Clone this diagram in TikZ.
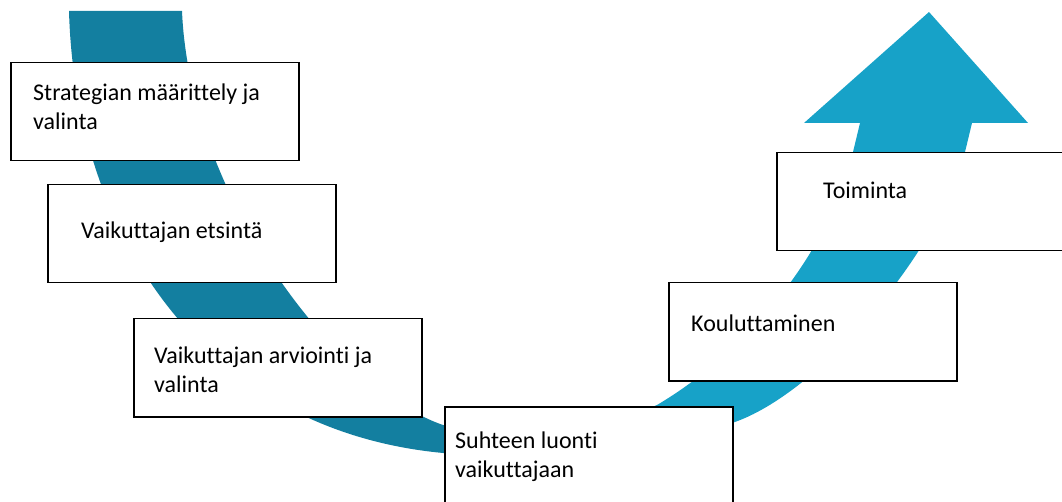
\documentclass[tikz,border=0pt]{standalone}
\usepackage{fontspec}
\setmainfont{Carlito}[Ligatures=CommonOff]
\definecolor{bandDark}{HTML}{137FA0}
\definecolor{bandLight}{HTML}{17A2C8}
\pgfdeclarehorizontalshading{bandshade}{100bp}{color(0bp)=(bandDark); color(45bp)=(bandDark); color(55bp)=(bandLight); color(100bp)=(bandLight)}
\begin{document}
\begin{tikzpicture}[x=1pt,y=-1pt,
  stepbox/.style={draw=black, fill=white, line width=1.5pt, minimum width=288pt, minimum height=98pt, anchor=north west, inner sep=0pt},
  steptext/.style={anchor=base west, inner sep=0pt, font=\fontsize{24}{29}\selectfont}]
\useasboundingbox (0,0) rectangle (1062,502);
\clip (0,0) rectangle (1062,502);
% curved band with arrow head
\shade[shading=bandshade]
  (69,11) .. controls (75,230) and (200,430) .. (443,453)
  .. controls (530,461) and (650,450) .. (732,423)
  .. controls (820,394) and (940,250) .. (965,152)
  -- (972,123) -- (1028,123) -- (929,12) -- (804,123) -- (860,123) -- (853,152)
  .. controls (830,250) and (750,350) .. (657,405)
  .. controls (590,433) and (500,442) .. (443,425)
  .. controls (340,390) and (190,200) .. (182,11)
  -- cycle;
% steps
\node[stepbox] (b1) at (10,62) {};
\node[steptext] (t1) at (33,101) {\parbox[t]{260pt}{Strategian määrittely ja\\valinta}};
\node[stepbox] (b2) at (47,184) {};
\node[steptext] (t2) at (81,239) {Vaikuttajan etsintä};
\node[stepbox] (b3) at (133,318) {};
\node[steptext] (t3) at (154,363) {\parbox[t]{260pt}{Vaikuttajan arviointi ja\\valinta}};
\node[stepbox] (b5) at (444,406) {};
\node[steptext] (t5) at (455,448) {\parbox[t]{260pt}{Suhteen luonti\\vaikuttajaan}};
\node[stepbox] (b6) at (668,282) {};
\node[steptext] (t6) at (691,331) {Kouluttaminen};
\node[stepbox] (b7) at (776,152) {};
\node[steptext] (t7) at (823,199) {Toiminta};
\end{tikzpicture}
\end{document}
